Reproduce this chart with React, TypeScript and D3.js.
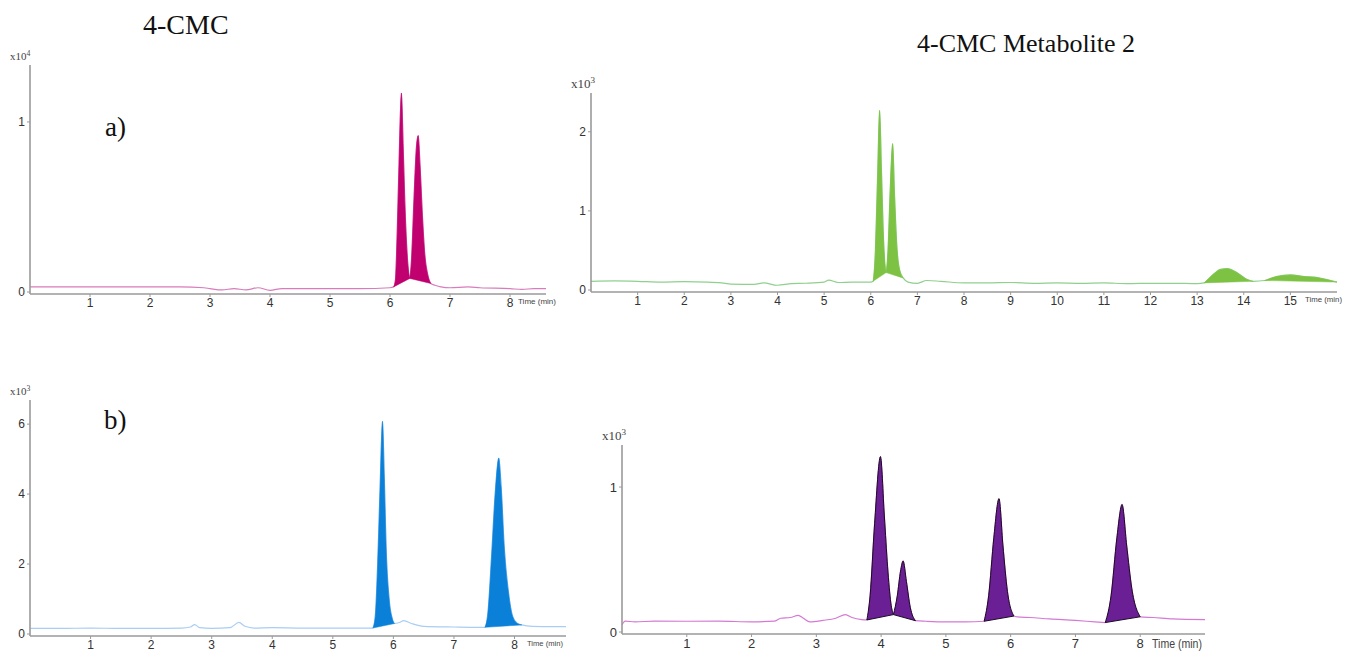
import React from "react";
import * as d3 from "d3";

// ---- data (time in min, signal in axis units) ----

// a) 4-CMC, x10^4
const timeA1 = [0, 0.5, 1, 1.5, 2, 2.5, 2.9, 3.0, 3.2, 3.4, 3.6, 3.8, 4.0, 4.2, 4.5, 5, 5.5, 6.0, 6.06, 6.09, 6.12, 6.15, 6.19, 6.22, 6.25, 6.29, 6.33, 6.36, 6.4, 6.44, 6.47, 6.5, 6.54, 6.58, 6.63, 6.68, 6.75, 6.85, 7, 7.3, 7.5, 8, 8.2, 8.4, 8.6];
const signalA1 = [0.03, 0.03, 0.03, 0.03, 0.03, 0.03, 0.025, 0.02, 0.012, 0.02, 0.012, 0.025, 0.01, 0.02, 0.02, 0.02, 0.02, 0.025, 0.03, 0.07, 0.35, 0.75, 1.17, 0.85, 0.5, 0.2, 0.08, 0.2, 0.55, 0.85, 0.92, 0.75, 0.45, 0.22, 0.1, 0.05, 0.04, 0.03, 0.025, 0.03, 0.025, 0.02, 0.015, 0.02, 0.02];
const peaksA1 = [[6.06, 6.33], [6.33, 6.68]];

// a) 4-CMC Metabolite 2, x10^3
const timeA2 = [0, 0.5, 1, 1.5, 2, 2.5, 2.8, 3, 3.5, 3.7, 4, 4.3, 4.6, 5, 5.1, 5.3, 5.6, 6, 6.05, 6.1, 6.15, 6.19, 6.23, 6.27, 6.33, 6.37, 6.42, 6.47, 6.51, 6.56, 6.62, 6.7, 6.8, 7, 7.2, 7.5, 8, 8.5, 9, 9.5, 10, 10.5, 11, 11.5, 12, 12.5, 13, 13.15, 13.35, 13.5, 13.65, 13.85, 14.05, 14.2, 14.45, 14.7, 15, 15.3, 15.6, 15.8, 16];
const signalA2 = [0.11, 0.115, 0.11, 0.1, 0.105, 0.1, 0.09, 0.075, 0.07, 0.09, 0.06, 0.08, 0.085, 0.1, 0.125, 0.095, 0.1, 0.1, 0.11, 0.5, 1.5, 2.27, 1.5, 0.7, 0.22, 0.5, 1.3, 1.85, 1.2, 0.55, 0.25, 0.15, 0.1, 0.085, 0.12, 0.11, 0.09, 0.09, 0.095, 0.085, 0.09, 0.085, 0.09, 0.08, 0.085, 0.085, 0.08, 0.09, 0.2, 0.26, 0.27, 0.22, 0.14, 0.11, 0.12, 0.17, 0.19, 0.17, 0.155, 0.13, 0.1];
const peaksA2 = [[6.05, 6.33], [6.33, 6.7], [13.15, 14.2], [14.45, 16]];

// b) 4-CMC, x10^3
const timeB1 = [0, 0.5, 1, 1.5, 2, 2.5, 2.65, 2.72, 2.8, 3, 3.3, 3.45, 3.55, 3.7, 4, 4.5, 5, 5.5, 5.66, 5.7, 5.74, 5.78, 5.82, 5.85, 5.88, 5.93, 5.98, 6.02, 6.1, 6.17, 6.3, 6.5, 7, 7.4, 7.51, 7.56, 7.62, 7.68, 7.74, 7.78, 7.83, 7.9, 7.97, 8.05, 8.12, 8.3, 8.6, 8.85];
const signalB1 = [0.16, 0.16, 0.17, 0.16, 0.16, 0.17, 0.2, 0.27, 0.18, 0.16, 0.18, 0.33, 0.22, 0.17, 0.18, 0.17, 0.17, 0.17, 0.17, 0.5, 2.0, 4.2, 6.08, 4.5, 2.5, 1.0, 0.45, 0.3, 0.33, 0.38, 0.3, 0.22, 0.2, 0.19, 0.19, 0.6, 2.2, 4.0, 5.03, 4.2, 2.5, 1.2, 0.5, 0.3, 0.26, 0.22, 0.21, 0.21];
const peaksB1 = [[5.66, 6.02], [7.51, 8.12]];

// b) 4-CMC Metabolite 2, x10^3
const timeB2 = [0, 0.05, 0.2, 0.5, 1, 1.5, 2, 2.35, 2.45, 2.6, 2.72, 2.8, 2.9, 3.1, 3.3, 3.45, 3.55, 3.7, 3.78, 3.83, 3.9, 3.99, 4.05, 4.1, 4.15, 4.19, 4.25, 4.3, 4.34, 4.39, 4.45, 4.53, 4.7, 5, 5.3, 5.59, 5.66, 5.74, 5.82, 5.88, 5.95, 6.05, 6.1, 6.3, 6.6, 7, 7.3, 7.46, 7.55, 7.64, 7.72, 7.79, 7.87, 8, 8.2, 8.5, 9];
const signalB2 = [0.05, 0.075, 0.07, 0.075, 0.074, 0.075, 0.07, 0.075, 0.095, 0.1, 0.115, 0.095, 0.07, 0.08, 0.095, 0.12, 0.1, 0.085, 0.083, 0.25, 0.75, 1.21, 0.8, 0.45, 0.2, 0.12, 0.25, 0.42, 0.49, 0.35, 0.17, 0.078, 0.074, 0.07, 0.07, 0.074, 0.25, 0.65, 0.92, 0.6, 0.28, 0.11, 0.105, 0.1, 0.09, 0.08, 0.07, 0.065, 0.25, 0.65, 0.88, 0.6, 0.3, 0.105, 0.1, 0.09, 0.085];
const peaksB2 = [[3.78, 4.19], [4.19, 4.53], [5.59, 6.05], [7.46, 8.0]];

const ticksA1 = [1, 2, 3, 4, 5, 6, 7, 8];
const ticksA2 = [1, 2, 3, 4, 5, 6, 7, 8, 9, 10, 11, 12, 13, 14, 15];
const ticksB1 = [1, 2, 3, 4, 5, 6, 7, 8];
const ticksB2 = [1, 2, 3, 4, 5, 6, 7, 8];
const yTicksA1 = [0, 1];
const yTicksA2 = [0, 1, 2];
const yTicksB1 = [0, 2, 4, 6];
const yTicksB2 = [0, 1];

type PanelProps = {
  time: number[];
  signal: number[];
  peaks: number[][];
  xTicks: number[];
  yTicks: number[];
  xDomain: [number, number];
  xRange: [number, number];
  yDomain: [number, number];
  yRange: [number, number];
  exponent: string;
  expSize: number;
  lineColor: string;
  fillColor: string;
  peakStroke?: string;
  tickSize: number;
  timeSize: number;
  timeX: number;
  timeW: number;
};

function Panel(p: PanelProps) {
  const x = d3.scaleLinear().domain(p.xDomain).range(p.xRange);
  const y = d3.scaleLinear().domain(p.yDomain).range(p.yRange);
  const pts: [number, number][] = p.time.map((t, i) => [t, p.signal[i]]);
  const line = d3
    .line<[number, number]>()
    .x((d) => x(d[0]))
    .y((d) => y(d[1]))
    .curve(d3.curveMonotoneX);
  const axisY = y(0) + 2;
  const left = p.xRange[0];
  const right = p.xRange[1];

  return (
    <g>
      <path d={line(pts) || ""} fill="none" stroke={p.lineColor} strokeWidth={1.2} />
      {p.peaks.map(([a, b], i) => {
        const seg = pts.filter((d) => d[0] >= a - 1e-9 && d[0] <= b + 1e-9);
        return (
          <path
            key={i}
            d={line(seg) + "Z"}
            fill={p.fillColor}
            stroke={p.peakStroke || p.fillColor}
            strokeWidth={p.peakStroke ? 1 : 0.5}
          />
        );
      })}
      {/* axes */}
      <line x1={left} x2={left} y1={p.yRange[1]} y2={axisY} stroke="#9a9a9a" strokeWidth={1.6} />
      <line x1={left} x2={right} y1={axisY} y2={axisY} stroke="#9a9a9a" strokeWidth={1.6} />
      {p.yTicks.map((v) => (
        <g key={"y" + v}>
          <line x1={left - 3} x2={left} y1={y(v)} y2={y(v)} stroke="#9a9a9a" />
          <text
            x={left - 5}
            y={y(v)}
            dy="0.35em"
            textAnchor="end"
            fontSize={p.tickSize}
            fontFamily="Liberation Sans, Arial, sans-serif"
            fill="#333"
          >
            {v}
          </text>
        </g>
      ))}
      {p.xTicks.map((t) => (
        <g key={"x" + t}>
          <line x1={x(t)} x2={x(t)} y1={axisY} y2={axisY + 3} stroke="#9a9a9a" />
          <text
            x={x(t)}
            y={axisY + 4}
            dy="0.75em"
            textAnchor="middle"
            fontSize={p.tickSize}
            fontFamily="Liberation Sans, Arial, sans-serif"
            fill="#333"
          >
            {t}
          </text>
        </g>
      ))}
      <text
        x={p.timeX}
        y={axisY + 4}
        dy="0.75em"
        fontSize={p.timeSize}
        textLength={p.timeW}
        lengthAdjust="spacingAndGlyphs"
        fontFamily="Liberation Sans, Arial, sans-serif"
        fill="#444"
      >
        Time (min)
      </text>
      <text
        x={left - 20}
        y={p.yRange[1] - 5}
        fontSize={p.expSize}
        fontFamily="Liberation Serif, Times New Roman, serif"
        fill="#444"
      >
        x10<tspan dy={-p.expSize * 0.4} fontSize={p.expSize * 0.7}>{p.exponent}</tspan>
      </text>
    </g>
  );
}

export default function App() {
  return (
    <svg
      width={1349}
      height={655}
      style={{ position: "absolute", left: 0, top: 0, background: "#fff" }}
    >
      <text x={143} y={34} fontSize={28} fontFamily="Liberation Serif, Times New Roman, serif" fill="#111">
        4-CMC
      </text>
      <text x={917} y={52} fontSize={26} fontFamily="Liberation Serif, Times New Roman, serif" fill="#111">
        4-CMC Metabolite 2
      </text>
      <text x={105} y={136} fontSize={27} fontFamily="Liberation Serif, Times New Roman, serif" fill="#111">
        a)
      </text>
      <text x={104} y={429} fontSize={27} fontFamily="Liberation Serif, Times New Roman, serif" fill="#111">
        b)
      </text>

      <Panel
        time={timeA1}
        signal={signalA1}
        peaks={peaksA1}
        xTicks={ticksA1}
        yTicks={yTicksA1}
        xDomain={[0, 8.6]}
        xRange={[30, 546]}
        yDomain={[0, 1.335]}
        yRange={[292, 65]}
        exponent="4"
        expSize={11}
        lineColor="#d77cbc"
        fillColor="#c1006f"
        tickSize={12}
        timeSize={8}
        timeX={518}
        timeW={38}
      />
      <Panel
        time={timeA2}
        signal={signalA2}
        peaks={peaksA2}
        xTicks={ticksA2}
        yTicks={yTicksA2}
        xDomain={[0, 16]}
        xRange={[591, 1337]}
        yDomain={[0, 2.49]}
        yRange={[290, 93]}
        exponent="3"
        expSize={13}
        lineColor="#8fd08c"
        fillColor="#7dc242"
        tickSize={12}
        timeSize={8}
        timeX={1305}
        timeW={37}
      />
      <Panel
        time={timeB1}
        signal={signalB1}
        peaks={peaksB1}
        xTicks={ticksB1}
        yTicks={yTicksB1}
        xDomain={[0, 8.85]}
        xRange={[30, 566]}
        yDomain={[0, 6.69]}
        yRange={[634, 400]}
        exponent="3"
        expSize={11}
        lineColor="#a9cdf3"
        fillColor="#0a80d8"
        tickSize={12}
        timeSize={8}
        timeX={527}
        timeW={36}
      />
      <Panel
        time={timeB2}
        signal={signalB2}
        peaks={peaksB2}
        xTicks={ticksB2}
        yTicks={yTicksB2}
        xDomain={[0, 9]}
        xRange={[622, 1205]}
        yDomain={[0, 1.29]}
        yRange={[632, 445]}
        exponent="3"
        expSize={13}
        lineColor="#d47ad4"
        fillColor="#6a1f95"
        peakStroke="#1b0b22"
        tickSize={13}
        timeSize={13}
        timeX={1152}
        timeW={50}
      />
    </svg>
  );
}
